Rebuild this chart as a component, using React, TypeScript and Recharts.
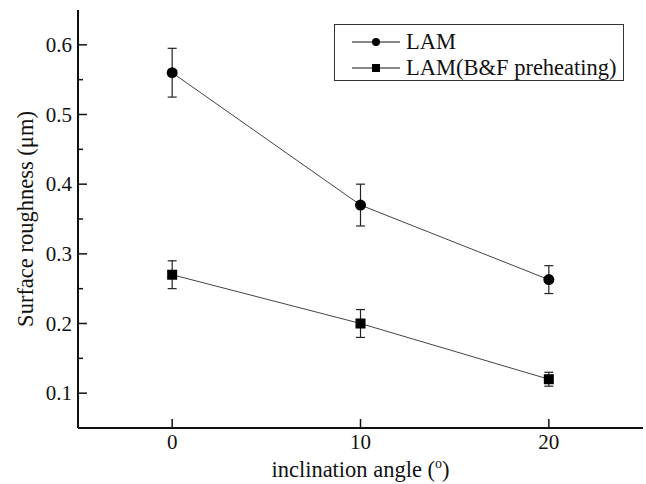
import React from 'react';
import { LineChart, Line, XAxis, YAxis, ErrorBar, Legend } from 'recharts';

// inclination angle (deg) and measured roughness (um) with error half-widths
const ANGLES = [0, 10, 20];
const LAM = [0.56, 0.37, 0.263];
const LAM_ERR = [0.035, 0.03, 0.02];
const LAM_BF = [0.27, 0.2, 0.12];
const LAM_BF_ERR = [0.02, 0.02, 0.01];

const X_TICKS = [0, 10, 20];
const Y_MAJOR = [0.1, 0.2, 0.3, 0.4, 0.5, 0.6];
const Y_MINOR = [0.15, 0.25, 0.35, 0.45, 0.55];

const INK = '#111';
const serif = (size: number): React.CSSProperties => ({
  fontFamily: "'Liberation Serif', 'Times New Roman', serif",
  fontSize: size,
});

const data = ANGLES.map((angle, i) => ({
  angle,
  lam: LAM[i],
  lamErr: LAM_ERR[i],
  bf: LAM_BF[i],
  bfErr: LAM_BF_ERR[i],
}));

const YTick = (props: any) => {
  const { x, y, payload } = props;
  const major = Y_MAJOR.includes(payload.value);
  const axisX = x + 6;
  return (
    <g>
      <line x1={axisX} x2={axisX + (major ? 9 : 5)} y1={y} y2={y} stroke={INK} strokeWidth={1.5} />
      {major && (
        <text x={x} y={y + 7} textAnchor="end" style={serif(21)} fill={INK}>
          {payload.value.toFixed(1)}
        </text>
      )}
    </g>
  );
};

const XTick = (props: any) => {
  const { x, y, payload } = props;
  const axisY = y - 7;
  return (
    <g>
      <line x1={x} x2={x} y1={axisY} y2={axisY - 9} stroke={INK} strokeWidth={1.5} />
      <text x={x} y={y + 14} textAnchor="middle" style={serif(21)} fill={INK}>
        {payload.value}
      </text>
    </g>
  );
};

const YTitle = (props: any) => {
  const { viewBox } = props;
  const cx = viewBox.x + 25;
  const cy = viewBox.y + viewBox.height / 2;
  return (
    <text
      x={cx}
      y={cy}
      transform={`rotate(-90 ${cx} ${cy})`}
      textAnchor="middle"
      dominantBaseline="central"
      style={serif(22.5)}
      fill={INK}
    >
      Surface roughness (μm)
    </text>
  );
};

const XTitle = (props: any) => {
  const { viewBox } = props;
  const cx = viewBox.x + viewBox.width / 2;
  return (
    <text x={cx} y={viewBox.y + 49} textAnchor="middle" style={serif(22.5)} fill={INK}>
      inclination angle (
      <tspan style={{ fontSize: 14 }} dy={-9}>o</tspan>
      <tspan dy={9}>)</tspan>
    </text>
  );
};

const SquareDot = (props: any) => {
  const { cx, cy } = props;
  if (cx == null || cy == null) return null;
  return <rect x={cx - 5} y={cy - 5} width={10} height={10} fill="#000" />;
};

const LegendBox = () => (
  <div style={{ width: 290, height: 57, border: '1px solid #333', background: '#fff', boxSizing: 'border-box' }}>
    <svg width={288} height={55} style={{ display: 'block' }}>
      <g transform="translate(-1,-1)">
        <line x1={18} x2={66} y1={18} y2={18} stroke={INK} strokeWidth={1} />
        <circle cx={42} cy={18} r={4} fill="#000" />
        <text x={72} y={25} style={serif(22.5)} fill={INK}>LAM</text>
        <line x1={18} x2={66} y1={44} y2={44} stroke={INK} strokeWidth={1} />
        <rect x={38} y={40} width={8} height={8} fill="#000" />
        <text x={72} y={51} style={serif(22.5)} fill={INK}>LAM(B&amp;F preheating)</text>
      </g>
    </svg>
  </div>
);

export default function App() {
  return (
    <div style={{ position: 'absolute', left: 0, top: 0, background: '#fff' }}>
      <LineChart width={646} height={484} data={data} margin={{ top: 10, right: 3, bottom: 0, left: 0 }}>
        <XAxis
          dataKey="angle"
          type="number"
          domain={[-5, 25]}
          ticks={X_TICKS}
          interval={0}
          height={56}
          tickSize={0}
          tickMargin={7}
          tickLine={false}
          tick={<XTick />}
          axisLine={{ stroke: INK, strokeWidth: 2 }}
          label={<XTitle />}
        />
        <XAxis
          xAxisId="top"
          orientation="top"
          dataKey="angle"
          type="number"
          domain={[-5, 25]}
          height={0}
          tick={false}
          tickLine={false}
          axisLine={{ stroke: INK, strokeWidth: 2 }}
        />
        <YAxis
          type="number"
          domain={[0.05, 0.65]}
          ticks={[...Y_MAJOR, ...Y_MINOR]}
          interval={0}
          width={78}
          tickSize={0}
          tickMargin={6}
          tickLine={false}
          tick={<YTick />}
          axisLine={{ stroke: INK, strokeWidth: 2 }}
          label={<YTitle />}
        />
        <YAxis
          yAxisId="right"
          orientation="right"
          type="number"
          domain={[0.05, 0.65]}
          width={0}
          tick={false}
          tickLine={false}
          axisLine={{ stroke: INK, strokeWidth: 2 }}
        />
        <Legend
          layout="vertical"
          align="center"
          verticalAlign="middle"
          content={<LegendBox />}
          wrapperStyle={{ position: 'absolute', left: 334, top: 24, width: 290, height: 57 }}
        />
        <Line
          dataKey="lam"
          name="LAM"
          stroke="#444"
          strokeWidth={1}
          dot={{ r: 5.5, fill: '#000', stroke: '#000', strokeWidth: 0 }}
          activeDot={false}
          isAnimationActive={false}
        >
          <ErrorBar dataKey="lamErr" direction="y" width={4.5} stroke="#222" strokeWidth={1.2} isAnimationActive={false} />
        </Line>
        <Line
          dataKey="bf"
          name="LAM(B&F preheating)"
          stroke="#444"
          strokeWidth={1}
          dot={<SquareDot />}
          activeDot={false}
          isAnimationActive={false}
        >
          <ErrorBar dataKey="bfErr" direction="y" width={4.5} stroke="#222" strokeWidth={1.2} isAnimationActive={false} />
        </Line>
      </LineChart>
    </div>
  );
}
